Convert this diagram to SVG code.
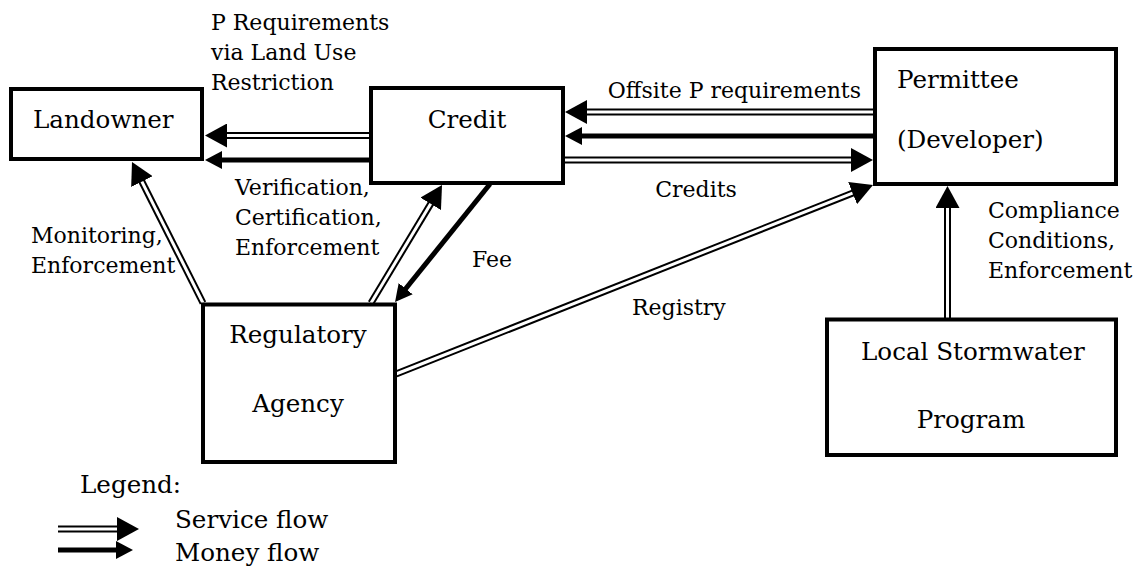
<svg xmlns="http://www.w3.org/2000/svg" width="1136" height="568" viewBox="0 0 1136 568">
<style>
text{font-family:"DejaVu Serif","Liberation Serif",serif;font-size:22px;fill:#000}
.n{font-size:24.6px}
.box{fill:#fff;stroke:#000;stroke-width:4}
.sb{fill:none;stroke:#000;stroke-width:7;marker-end:url(#hs)}
.sw{fill:none;stroke:#fff;stroke-width:3}
.m{fill:none;stroke:#000;stroke-width:5;marker-end:url(#hm)}
.mid{text-anchor:middle}
</style>
<defs>
<marker id="hs" markerUnits="userSpaceOnUse" viewBox="0 0 22 24" markerWidth="22" markerHeight="24" refX="14" refY="12" orient="auto"><path d="M0,0 L22,12 L0,24 z" fill="#000"/></marker>
<marker id="hm" markerUnits="userSpaceOnUse" viewBox="0 0 17 18" markerWidth="17" markerHeight="18" refX="11" refY="9" orient="auto"><path d="M0,0 L17,9 L0,18 z" fill="#000"/></marker>
</defs>
<g id="connectors">
<!-- Credit -> Landowner service -->
<path class="sb" d="M369,135.5 L213,135.5"/><path class="sw" d="M369,135.5 L227,135.5"/>
<!-- Credit -> Landowner money -->
<path class="m" d="M369,160 L211,160"/>
<!-- Permittee -> Credit service -->
<path class="sb" d="M873,112 L573,112"/><path class="sw" d="M873,112 L587,112"/>
<!-- Permittee -> Credit money -->
<path class="m" d="M873,136 L571,136"/>
<!-- Credit -> Permittee service -->
<path class="sb" d="M565,160 L865,160"/><path class="sw" d="M565,160 L851,160"/>
<!-- Regulatory -> Landowner service -->
<path class="sb" d="M203,303 L135.6,169.1"/><path class="sw" d="M203,303 L141.9,181.6"/>
<!-- Regulatory -> Credit service -->
<path class="sb" d="M371,303 L437.9,191.9"/><path class="sw" d="M371,303 L430.7,203.8"/>
<!-- Credit -> Regulatory money -->
<path class="m" d="M490,184 L398.8,297.3"/>
<!-- Regulatory -> Permittee service -->
<path class="sb" d="M396,374 L865.6,187.9"/><path class="sw" d="M396,374 L852.5,193.1"/>
<!-- Local -> Permittee service -->
<path class="sb" d="M947.5,318 L947.5,194"/><path class="sw" d="M947.5,318 L947.5,208"/>
<!-- Legend -->
<path class="sb" d="M58,529 L131,529"/><path class="sw" d="M58,529 L117,529"/>
<path class="m" d="M58,550 L127,550"/>
</g>
<g id="landowner"><rect class="box" x="11" y="89" width="191" height="70"/><text class="n" x="33" y="128">Landowner</text></g>
<g id="credit"><rect class="box" x="371" y="88" width="192" height="95"/><text class="n mid" x="467" y="128">Credit</text></g>
<g id="permittee"><rect class="box" x="875" y="49" width="241" height="135"/><text class="n" x="897" y="88">Permittee</text><text class="n" x="897" y="148">(Developer)</text></g>
<g id="regulatory"><rect class="box" x="203" y="304.5" width="192" height="157.5"/><text class="n mid" x="298" y="343">Regulatory</text><text class="n mid" x="298" y="412">Agency</text></g>
<g id="local"><rect class="box" x="827" y="319.5" width="289" height="135.5"/><text class="n" x="861" y="360">Local Stormwater</text><text class="n mid" x="971" y="428">Program</text></g>
<g id="labels">
<text x="211" y="29.5">P Requirements</text><text x="211" y="59.5">via Land Use</text><text x="211" y="89.5">Restriction</text>
<text x="861" y="98" text-anchor="end">Offsite P requirements</text>
<text class="mid" x="696" y="197">Credits</text>
<text x="235" y="195">Verification,</text><text x="235" y="225">Certification,</text><text x="235" y="255">Enforcement</text>
<text x="31" y="243">Monitoring,</text><text x="31" y="273">Enforcement</text>
<text x="472" y="267">Fee</text>
<text x="632" y="315">Registry</text>
<text x="988" y="218">Compliance</text><text x="988" y="248">Conditions,</text><text x="988" y="278">Enforcement</text>
<text class="n" x="80" y="493">Legend:</text>
<text class="n" x="175" y="528">Service flow</text><text class="n" x="175" y="561">Money flow</text>
</g>
</svg>
